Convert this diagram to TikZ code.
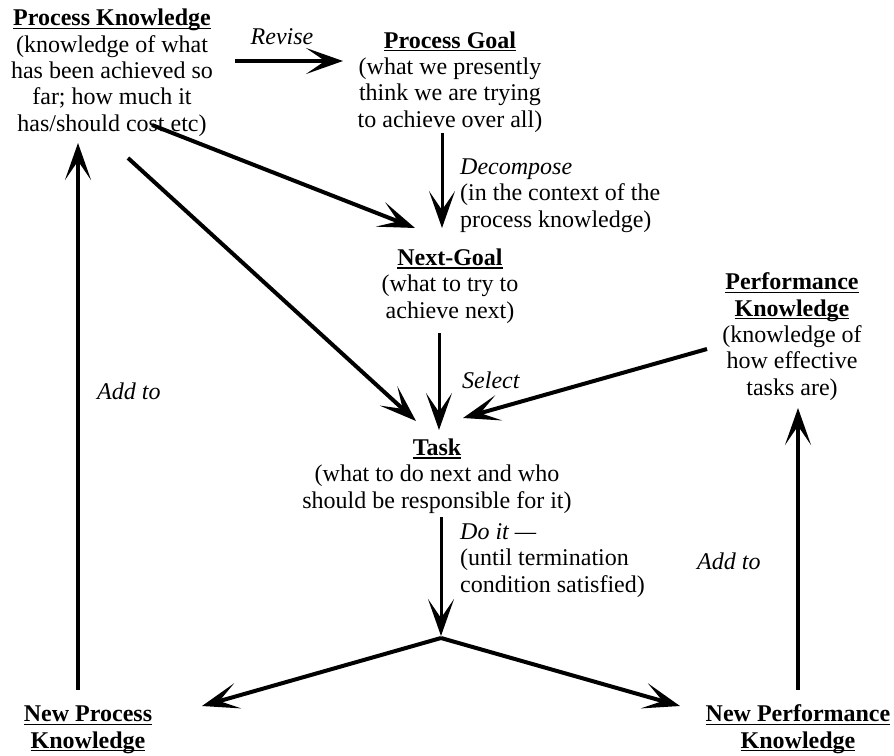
\documentclass[tikz,border=0pt]{standalone}
\usepackage{fontspec}
\setmainfont{Liberation Serif}
\usetikzlibrary{arrows.meta}
\newsavebox\hdbox
\newcommand\hd[1]{\sbox\hdbox{\bfseries #1}\rlap{\rule[-3.2pt]{\wd\hdbox}{1.3pt}}\usebox\hdbox}
\tikzset{
  blk/.style ={anchor=base, align=center, inner sep=0pt, font=\fontsize{24}{26.3}\selectfont},
  lbl/.style ={anchor=base west, align=left, inner sep=0pt, font=\fontsize{24}{26.3}\selectfont},
  flow/.style={line width=3pt, -{Stealth[length=37pt,width=26pt,inset=19pt]}},
  heavy/.style={flow, line width=4pt},
}

\begin{document}
\begin{tikzpicture}[x=1pt,y=-1pt]
\useasboundingbox (0,0) rectangle (894,755);
% blocks (placed at the baseline of their last line)
\node[blk] (pk) at (112,131) {\hd{Process Knowledge}\\(knowledge of what\\has been achieved so\\far; how much it\\has/should cost etc)};
\node[blk] (pg) at (450,127) {\hd{Process Goal}\\(what we presently\\think we are trying\\to achieve over all)};
\node[blk] (ng) at (450,318) {\hd{Next-Goal}\\(what to try to\\achieve next)};
\node[blk] (tk) at (437,508) {\hd{Task}\\(what to do next and who\\should be responsible for it)};
\node[blk] (pf) at (792,395) {\hd{Performance}\\\hd{Knowledge}\\(knowledge of\\how effective\\tasks are)};
\node[blk] (npk) at (88,748) {\hd{New Process}\\\hd{Knowledge}};
\node[blk] (npf) at (798,748) {\hd{New Performance}\\\hd{Knowledge}};
% labels
\node[blk] (rv) at (282,44) {\textit{Revise}};
\node[lbl] (dc) at (460,227) {\textit{Decompose}\\(in the context of the\\process knowledge)};
\node[lbl] (sl) at (462,388) {\textit{Select}};
\node[lbl] (di) at (460,592) {\textit{Do it ---}\\(until termination\\condition satisfied)};
\node[lbl] (al) at (97,399) {\textit{Add to}};
\node[lbl] (ar) at (697,569) {\textit{Add to}};
% arrow ends
\coordinate (rv0) at (235,61);
\coordinate (rv1) at (343,61);
\coordinate (dc0) at (442,133);
\coordinate (dc1) at (442,228);
\coordinate (pn0) at (152,125);
\coordinate (pn1) at (415,228);
\coordinate (pt0) at (128,158);
\coordinate (pt1) at (416,421);
\coordinate (sl0) at (439,333);
\coordinate (sl1) at (439,430);
\coordinate (ft0) at (707,349);
\coordinate (ft1) at (463,418);
\coordinate (di0) at (441,517);
\coordinate (di1) at (441,636);
\coordinate (jn) at (441,638);
\coordinate (jl) at (202,706);
\coordinate (jr) at (680,706);
\coordinate (al0) at (78,690);
\coordinate (al1) at (78,143);
\coordinate (ar0) at (798,690);
\coordinate (ar1) at (798,408);
% connectors
\draw[heavy] (rv0) -- (rv1);
\draw[flow] (dc0) -- (dc1);
\draw[heavy] (pn0) -- (pn1);
\draw[heavy] (pt0) -- (pt1);
\draw[flow] (sl0) -- (sl1);
\draw[heavy] (ft0) -- (ft1);
\draw[flow] (di0) -- (di1);
\draw[heavy] (jn) -- (jl);
\draw[heavy] (jn) -- (jr);
\draw[heavy] (al0) -- (al1);
\draw[heavy] (ar0) -- (ar1);
\end{tikzpicture}
\end{document}
